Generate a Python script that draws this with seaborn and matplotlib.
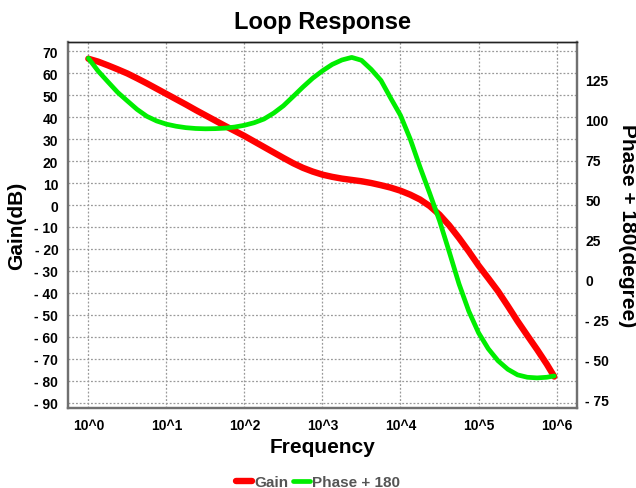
"""Loop response (Bode) chart: gain and phase + 180 against frequency."""

import matplotlib
matplotlib.use("Agg")
import matplotlib.pyplot as plt
from matplotlib.ticker import FixedLocator, FixedFormatter
import pandas as pd
import seaborn as sns

log_freq = [0.0, 0.125, 0.25, 0.375, 0.5, 0.625, 0.75, 0.875,
            1.0, 1.125, 1.25, 1.375, 1.5, 1.625, 1.75, 1.875,
            2.0, 2.125, 2.25, 2.375, 2.5, 2.625, 2.75, 2.875,
            3.0, 3.125, 3.25, 3.375, 3.5, 3.625, 3.75, 3.875,
            4.0, 4.125, 4.25, 4.375, 4.5, 4.625, 4.75, 4.875,
            5.0, 5.125, 5.25, 5.375, 5.5, 5.625, 5.75, 5.875, 5.97]
gain_db = [66.5, 65.2, 63.5, 61.7, 59.8, 57.6, 55.3, 52.9,
           50.5, 48.1, 45.7, 43.2, 40.8, 38.4, 36.0, 33.7,
           31.4, 28.9, 26.4, 23.9, 21.4, 19.0, 16.9, 15.2,
           13.8, 12.8, 12.0, 11.4, 10.8, 10.0, 9.0, 7.9,
           6.5, 4.7, 2.5, -0.5, -4.4, -9.3, -15.0, -21.1,
           -27.5, -33.3, -39.2, -45.9, -52.8, -59.3, -65.7, -72.4, -78.0]
phase_180 = [138.5, 130.5, 123.8, 117.2, 111.8, 106.5, 102.2, 99.3,
             97.3, 96.0, 95.1, 94.6, 94.4, 94.5, 94.8, 95.5,
             96.6, 98.2, 100.5, 104.2, 108.8, 114.6, 120.5, 126.0,
             130.6, 134.6, 137.4, 139.0, 137.2, 131.5, 124.6, 113.5,
             102.8, 88.0, 70.5, 54.0, 37.0, 17.5, -2.5, -19.5,
             -33.0, -43.0, -50.5, -55.8, -59.3, -60.8, -61.2, -60.8, -60.0]

gain_ticks = [-90, -80, -70, -60, -50, -40, -30, -20, -10, 0, 10, 20, 30, 40, 50, 60, 70]
gain_labels = ["- 90", "- 80", "- 70", "- 60", "- 50", "- 40", "- 30", "- 20",
               "- 10", "0", "10", "20", "30", "40", "50", "60", "70"]
phase_ticks = [-75, -50, -25, 0, 25, 50, 75, 100, 125]
phase_labels = ["- 75", "- 50", "- 25", "0", "25", "50", "75", "100", "125"]
freq_ticks = [1e0, 1e1, 1e2, 1e3, 1e4, 1e5, 1e6]
freq_labels = ["10^0", "10^1", "10^2", "10^3", "10^4", "10^5", "10^6"]

df = pd.DataFrame({
    "freq": [10 ** v for v in log_freq],
    "gain": gain_db,
    "phase": phase_180,
})

sns.set_theme(style="white")
plt.rcParams["font.family"] = ["Liberation Sans", "DejaVu Sans"]
plt.rcParams["font.weight"] = "bold"
for key in ("text.color", "axes.labelcolor", "xtick.color", "ytick.color"):
    plt.rcParams[key] = "black"

fig = plt.figure(figsize=(6.36, 4.89), dpi=100)
ax = fig.add_axes([0.107, 0.1636, 0.8, 0.7484])
ax2 = ax.twinx()

sns.lineplot(data=df, x="freq", y="gain", ax=ax, color="#ff0000", lw=4.6,
             sort=False, label="Gain", legend=False, zorder=3)
sns.lineplot(data=df, x="freq", y="phase", ax=ax2, color="#00ee00", lw=3.4,
             sort=False, label="Phase + 180", legend=False, zorder=2)

ax.set_xscale("log")
ax.set_xlim(10 ** -0.26, 10 ** 6.26)
ax.set_ylim(-92.3, 74.1)
ax2.set_ylim(-80, 148.6)

ax.xaxis.set_major_locator(FixedLocator(freq_ticks))
ax.xaxis.set_major_formatter(FixedFormatter(freq_labels))
ax.xaxis.set_minor_locator(FixedLocator([]))
ax.yaxis.set_major_locator(FixedLocator(gain_ticks))
ax.yaxis.set_major_formatter(FixedFormatter(gain_labels))
ax2.yaxis.set_major_locator(FixedLocator(phase_ticks))
ax2.yaxis.set_major_formatter(FixedFormatter(phase_labels))

ax.grid(True, color="#999999", linestyle=(0, (1.5, 1.5)), linewidth=0.9)
ax2.grid(False)
ax.set_axisbelow(True)

ax.tick_params(axis="both", length=0, labelsize=10, pad=7)
ax2.tick_params(axis="y", length=0, labelsize=10, pad=6)
for lab in ax.get_xticklabels() + ax.get_yticklabels() + ax2.get_yticklabels():
    lab.set_fontweight("bold")

for a in (ax, ax2):
    for side in ("left", "bottom", "right"):
        a.spines[side].set_color("#707070")
        a.spines[side].set_linewidth(1.6)
    a.spines["top"].set_color("#222222")
    a.spines["top"].set_linewidth(1.0)

ax.set_xlabel("Frequency", fontsize=15, fontweight="bold", labelpad=4)
ax.set_ylabel("Gain(dB)", fontsize=15, fontweight="bold", labelpad=6)
ax2.set_ylabel("Phase + 180(degree)", fontsize=15, fontweight="bold",
               rotation=270, labelpad=20)
ax.set_title("Loop Response", fontsize=17, fontweight="bold", pad=10)

h1, l1 = ax.get_legend_handles_labels()
h2, l2 = ax2.get_legend_handles_labels()
leg = fig.legend(h1 + h2, l1 + l2, loc="lower center", ncol=2, frameon=False,
                 bbox_to_anchor=(0.5, -0.03), handlelength=1.1,
                 handletextpad=0.15, columnspacing=0.3,
                 prop={"size": 11, "weight": "bold"})
for t in leg.get_texts():
    t.set_color("#555555")

fig.savefig("out.png", dpi=100)
plt.close(fig)
